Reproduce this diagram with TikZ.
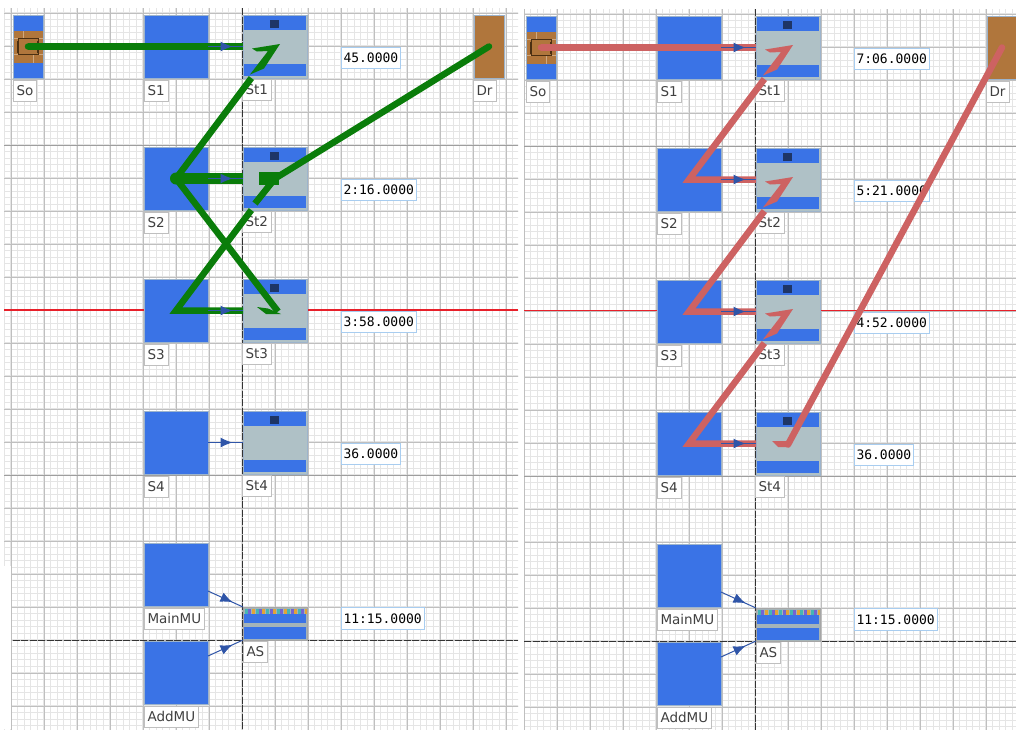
\documentclass[tikz,border=0pt]{standalone}
\usepackage{fontspec}
\setmainfont{DejaVu Sans}
\newfontfamily\timefont{DejaVu Sans Mono}
\usetikzlibrary{arrows.meta, positioning, calc, decorations.markings}

\definecolor{unitblue}{HTML}{3A73E6}
\definecolor{unitedge}{HTML}{9DB4CC}
\definecolor{stationgray}{HTML}{AFC1C6}
\definecolor{monitorblue}{HTML}{1E3566}
\definecolor{drainbrown}{HTML}{B0763C}
\definecolor{brickedge}{HTML}{D0A880}
\definecolor{brickdark}{HTML}{4A2F12}
\definecolor{flowgreen}{HTML}{0A7D0A}
\definecolor{flowred}{HTML}{CD6262}
\definecolor{arrowblue}{HTML}{2F55A8}
\definecolor{tagedge}{HTML}{A8CDF0}
\definecolor{axisred}{HTML}{E8202A}
\definecolor{stripteal}{HTML}{45B5B5}
\definecolor{strippurple}{HTML}{7464D2}
\definecolor{striporange}{HTML}{E2A436}

% wedge at the end of a flow line inside a station
\newcommand{\worktip}[2]{\fill[#2] ($(#1.center)+(-23,2)$) -- ($(#1.center)+(5,-2.5)$) -- ($(#1.center)+(-11,22)$) -- ($(#1.center)+(-25,28)$) -- ($(#1.center)+(-7,4.5)$) -- ($(#1.center)+(-18,5)$) -- cycle;}

\begin{document}
\begin{tikzpicture}[
        x=1pt, y=-1pt,
        unit/.style={rectangle, draw=unitedge, line width=1pt, outer sep=0pt, minimum height=63pt},
        sourcebox/.style={unit, fill=unitblue, minimum width=64pt},
        station/.style={unit, fill=stationgray, minimum width=64pt,
            path picture={
                \fill[unitblue] ([shift={(1pt,-1pt)}]path picture bounding box.north west) rectangle ([shift={(-1pt,-15pt)}]path picture bounding box.north east);
                \fill[unitblue] ([shift={(1pt,14pt)}]path picture bounding box.south west) rectangle ([shift={(-1pt,2pt)}]path picture bounding box.south east);
                \fill[monitorblue] ([shift={(-5pt,-5pt)}]path picture bounding box.north) rectangle ([shift={(4pt,-13pt)}]path picture bounding box.north);
            }},
        sourcenode/.style={unit, fill=unitblue, minimum width=30pt,
            path picture={
                \fill[drainbrown] ([yshift=16pt]path picture bounding box.west) rectangle ([yshift=-16pt]path picture bounding box.east);
                \draw[brickedge, line width=1pt] ([yshift=8pt]path picture bounding box.west) -- ([yshift=8pt]path picture bounding box.east);
                \draw[brickedge, line width=1pt] ([yshift=-8pt]path picture bounding box.west) -- ([yshift=-8pt]path picture bounding box.east);
                \draw[brickedge, line width=1pt] ([shift={(-5pt,8pt)}]path picture bounding box.center) -- ++(0pt,8pt);
                \draw[brickedge, line width=1pt] ([shift={(5pt,-8pt)}]path picture bounding box.center) -- ++(0pt,-8pt);
                \draw[brickdark, line width=0.8pt] ([shift={(-10pt,-8pt)}]path picture bounding box.center) rectangle ([shift={(10pt,8pt)}]path picture bounding box.center);
                \draw[brickdark, line width=2pt] ([shift={(-10pt,-6pt)}]path picture bounding box.center) -- ++(0pt,12pt);
                \draw[brickdark, line width=2pt] ([shift={(10pt,-6pt)}]path picture bounding box.center) -- ++(0pt,12pt);
            }},
        drain/.style={unit, fill=drainbrown, minimum width=30pt},
        assembly/.style={rectangle, draw=gray!70, fill=stationgray!80!gray, line width=1pt, outer sep=0pt, minimum width=64pt, minimum height=33pt,
            path picture={
                \fill[unitblue] ([shift={(1pt,-7pt)}]path picture bounding box.north west) rectangle ([shift={(-1pt,-16pt)}]path picture bounding box.north east);
                \fill[unitblue] ([shift={(1pt,1pt)}]path picture bounding box.south west) rectangle ([shift={(-1pt,13pt)}]path picture bounding box.south east);
                \foreach \i in {0,...,5} {
                    \fill[stripteal] ([shift={(2+10.6*\i pt,-2pt)}]path picture bounding box.north west) rectangle ++(3pt,-5pt);
                    \fill[strippurple] ([shift={(5.4+10.6*\i pt,-2pt)}]path picture bounding box.north west) rectangle ++(3pt,-5pt);
                    \fill[striporange] ([shift={(8.8+10.6*\i pt,-2pt)}]path picture bounding box.north west) rectangle ++(3pt,-5pt);
                }
            }},
        tag/.style={rectangle, draw=gray!50, fill=white, line width=0.8pt, text=black!75, font=\fontsize{13.5}{14}\selectfont, inner xsep=3.5pt, inner ysep=0pt, minimum height=21pt, outer sep=0pt},
        timetag/.style={rectangle, draw=tagedge, fill=white, line width=1pt, font=\fontsize{13}{14}\timefont, inner xsep=2.5pt, inner ysep=0pt, minimum height=21.5pt, outer sep=0pt},
        greenline/.style={draw=flowgreen, line width=6.5pt},
        redline/.style={draw=flowred, line width=6.5pt},
        feed/.style={draw=arrowblue, line width=1pt, postaction={decorate},
            decoration={markings, mark=at position 0.7 with {\arrow{Latex[length=12pt,width=10pt]}}}},
        gridminor/.style={draw=black!10, line width=1.3pt},
        gridmid/.style={draw=black!25, line width=1pt},
        gridstrong/.style={draw=black!38, line width=1pt},
        gridaxis/.style={draw=black!80, line width=1pt, dash pattern=on 7pt off 1.5pt}
    ]
    \useasboundingbox (0,0) rectangle (1016,729);

    % Background grids
    \foreach \dx/\dy/\lft/\rgt in {0/0/4/518, 513/1/11/503} {
        \begin{scope}[shift={(\dx,\dy)}]
            \begin{scope}
                \clip (\lft,8) rectangle (\rgt,729);
                \begin{scope}[shift={(11,640)}]
                    \draw[gridminor, step=6.6pt] (-13.2,90) grid (510,-650);
                    \draw[gridmid, step=33pt] (-13.2,90) grid (510,-650);
                \end{scope}
                \draw[gridstrong] (\lft,145) -- (\rgt,145);
                \draw[gridstrong] (\lft,475) -- (\rgt,475);
                \draw[gridaxis] (\lft,640) -- (\rgt,640);
                \draw[gridaxis] (242,8) -- (242,729);
            \end{scope}
        \end{scope}
    }
    \fill[white] (0,566) rectangle (11,729);

    % Red marker line
    \draw[axisred, line width=1.2pt] (4,310) -- (518,310);
    \draw[axisred, line width=1.2pt] (524,310.6) -- (1016,310.6);

    % Sources, stations and labels of both panels
    \foreach \p/\dx/\dy/\ta/\tb/\tc in {l/0/0/45.0000/2:16.0000/3:58.0000, r/513/1/7:06.0000/5:21.0000/4:52.0000} {
        \begin{scope}[shift={(\dx,\dy)}]
            \node[sourcenode] (\p so) at (28,46.5) {};
            \node[sourcebox, right=101pt of \p so] (\p s1) {};
            \node[sourcebox, below=69pt of \p s1] (\p s2) {};
            \node[sourcebox, below=69pt of \p s2] (\p s3) {};
            \node[sourcebox, below=69pt of \p s3] (\p s4) {};
            \node[sourcebox, below=69pt of \p s4] (\p main) {};
            \node[sourcebox, below=35pt of \p main] (\p add) {};
            \node[station, right=35pt of \p s1] (\p st1) {};
            \node[station, right=35pt of \p s2] (\p st2) {};
            \node[station, right=35pt of \p s3] (\p st3) {};
            \node[station, right=35pt of \p s4] (\p st4) {};
            \node[assembly, right=35pt of \p main, yshift=-49pt] (\p as) {};
            \node[drain, right=167pt of \p st1] (\p dr) {};

            \node[timetag, right=34pt of \p st1, yshift=-11.5pt] (\p t1) {\ta};
            \node[timetag, right=34pt of \p st2, yshift=-11.5pt] (\p t2) {\tb};
            \node[timetag, right=34pt of \p st3, yshift=-11.5pt] (\p t3) {\tc};
            \node[timetag, right=34pt of \p st4, yshift=-11.5pt] (\p t4) {36.0000};
            \node[timetag, right=34pt of \p as, yshift=5pt] (\p t5) {11:15.0000};

            \node[tag, below right=2pt and 0pt of \p so.south west] (\p lso) {So};
            \node[tag, below right=2pt and 0pt of \p s1.south west] (\p ls1) {S1};
            \node[tag, below right=2pt and 0pt of \p s2.south west] (\p ls2) {S2};
            \node[tag, below right=2pt and 0pt of \p s3.south west] (\p ls3) {S3};
            \node[tag, below right=2pt and 0pt of \p s4.south west] (\p ls4) {S4};
            \node[tag, below right=2pt and 0pt of \p main.south west] (\p lmain) {MainMU};
            \node[tag, below right=2pt and 0pt of \p add.south west] (\p ladd) {AddMU};
            \node[tag, below right=1pt and -1pt of \p st1.south west] (\p lst1) {St1};
            \node[tag, below right=1pt and -1pt of \p st2.south west] (\p lst2) {St2};
            \node[tag, below right=1pt and -1pt of \p st3.south west] (\p lst3) {St3};
            \node[tag, below right=1pt and -1pt of \p st4.south west] (\p lst4) {St4};
            \node[tag, below right=1pt and 0pt of \p as.south west] (\p las) {AS};
            \node[tag, below right=2pt and -1pt of \p dr.south west] (\p ldr) {Dr};
        \end{scope}
    }

    % Green route
    \fill[flowgreen] (lso.center) circle (3.25);
    \draw[greenline] (lso.center) -- (lst1);
    \draw[greenline] (lst1) -- (ls2.center);
    \draw[greenline, line width=11pt] (ls2.center) -- (lst2);
    \fill[flowgreen] (ls2.center) circle (6);
    \draw[greenline] (lst2) -- (ls3.center) -- (lst3);
    \draw[greenline] (ls2.center) -- ($(lst3.center)+(3,1)$);
    \draw[greenline, line width=13pt] ($(lst2.center)+(-16,0)$) -- ($(lst2.center)+(4,0)$);
    \draw[greenline] (lst2.center) -- ($(lst2.center)+(-20,25)$);
    \draw[greenline, line cap=round] (lst2.center) -- (ldr.center);
    \worktip{lst1}{flowgreen}
    \fill[flowgreen] ($(lst3.center)+(-18,-3.5)$) -- ($(lst3.center)+(-7,-2)$) -- ($(lst3.center)+(6,3.5)$) -- ($(lst3.center)+(-9,3.5)$) -- cycle;

    % Red route
    \fill[flowred] (rso.center) circle (3.25);
    \draw[redline] (rso.center) -- (rst1);
    \draw[redline] (rst1) -- (rs2.center) -- (rst2);
    \draw[redline] (rst2) -- (rs3.center) -- (rst3);
    \draw[redline] (rst3) -- (rs4.center) -- (rst4);
    \worktip{rst1}{flowred}
    \worktip{rst2}{flowred}
    \worktip{rst3}{flowred}
    \fill[flowred] ($(rst4.center)+(-16,-2.5)$) -- ($(rst4.center)+(1,-2.5)$) -- ($(rst4.center)+(2,3.5)$) -- ($(rst4.center)+(-10,3.5)$) -- cycle;
    \draw[redline, line cap=round] ($(rst4.center)+(0,1)$) -- (rdr.center);

    % Feed arrows
    \foreach \p in {l,r} {
        \draw[feed] (\p s1) -- (\p st1);
        \draw[feed] (\p s2) -- (\p st2);
        \draw[feed] (\p s3) -- (\p st3);
        \draw[feed] (\p s4) -- (\p st4);
        \draw[feed] ([yshift=15pt]\p main.south east) -- (\p as.north west);
        \draw[feed] ([yshift=-15pt]\p add.north east) -- (\p as.south west);
    }
\end{tikzpicture}
\end{document}
